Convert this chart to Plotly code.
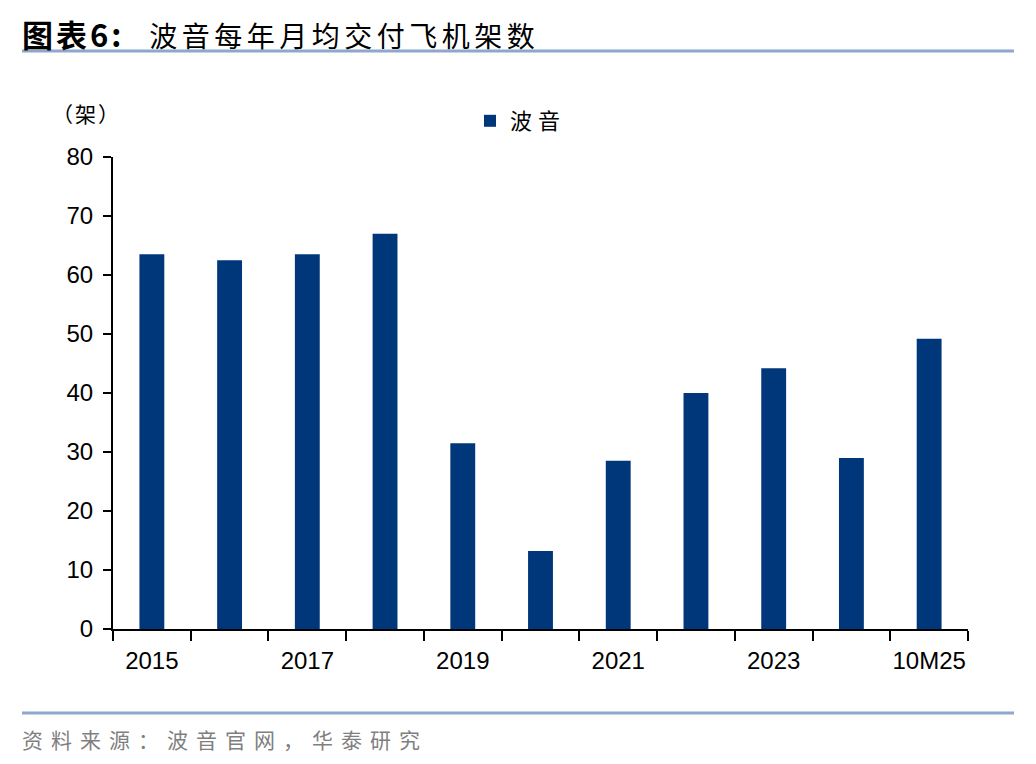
import plotly.graph_objects as go

categories = ["2015", "2016", "2017", "2018", "2019", "2020", "2021", "2022", "2023", "2024", "10M25"]
boeing = [63.5, 62.5, 63.5, 67.0, 31.5, 13.2, 28.5, 40.0, 44.2, 29.0, 49.2]
tick_text = ["2015", "", "2017", "", "2019", "", "2021", "", "2023", "", "10M25"]
y_ticks = [0, 10, 20, 30, 40, 50, 60, 70, 80]

OFF = 8  # browser body margin
W, H = 1036 - OFF, 764 - OFF
L, R, T, B = 113 - OFF, 968 - OFF, 157 - OFF, 629 - OFF
def px(x):
    return (x - OFF - L) / (R - L)
def py(y):
    return (B - (y - OFF)) / (B - T)

cjk = "Noto Sans CJK SC"
num = "Liberation Sans, Arial"

fig = go.Figure()
fig.add_trace(go.Bar(x=categories, y=boeing, name="<span style='letter-spacing:6px'>波音</span>",
                     marker_color="#00377A", marker_line_width=0))

fig.update_layout(
    width=W, height=H,
    margin=dict(l=L, r=W - R, t=T, b=H - B, pad=0),
    paper_bgcolor="white", plot_bgcolor="white",
    bargap=0.68,
    showlegend=True,
    legend=dict(x=px(470), y=py(121), xanchor="left", yanchor="middle",
                font=dict(family=cjk, size=22, color="#000"), itemwidth=30,
                bgcolor="rgba(0,0,0,0)"),
    xaxis=dict(type="category", tickvals=categories, ticktext=tick_text,
               tickson="boundaries", ticks="outside", ticklen=10, tickwidth=2,
               tickcolor="#000", showline=True, linecolor="#000", linewidth=2,
               showgrid=False, tickangle=0, ticklabelstandoff=9,
               tickfont=dict(family=num, size=24, color="#000"),
               range=[-0.5, 10.5]),
    yaxis=dict(range=[0, 80], tickvals=y_ticks, ticks="outside", ticklen=8,
               tickwidth=2, tickcolor="#000", showline=True, linecolor="#000",
               linewidth=2, showgrid=False, zeroline=False, ticklabelstandoff=5,
               tickfont=dict(family=num, size=24, color="#000")),
    font=dict(family=cjk),
)

line_color = "#8DA8CD"
fig.add_shape(type="line", xref="paper", yref="paper", x0=px(22), x1=px(1014),
              y0=py(51), y1=py(51), line=dict(color=line_color, width=3))
fig.add_shape(type="line", xref="paper", yref="paper", x0=px(22), x1=px(1014),
              y0=py(713), y1=py(713), line=dict(color=line_color, width=3))

fig.add_annotation(xref="paper", yref="paper", x=px(20), y=py(34), xanchor="left",
                   yanchor="middle", showarrow=False,
                   text="<b><span style='letter-spacing:3px;font-size:31px'>图表6:</span></b>"
                        "<span style='letter-spacing:4.5px'>\u2002\u200a波音每年月均交付飞机架数</span>",
                   font=dict(family=cjk, size=28, color="#000"))
fig.add_annotation(xref="paper", yref="paper", x=px(50), y=py(113), xanchor="left",
                   yanchor="middle", showarrow=False,
                   text="<span style='letter-spacing:2px'>（架）</span>",
                   font=dict(family=cjk, size=21, color="#000"))
fig.add_annotation(xref="paper", yref="paper", x=px(20), y=py(739), xanchor="left",
                   yanchor="middle", showarrow=False,
                   text="<span style='letter-spacing:8px'>资料来源：波音官网，华泰研究</span>",
                   font=dict(family=cjk, size=21, color="#7F7F7F"))

fig.write_html("out.html")
